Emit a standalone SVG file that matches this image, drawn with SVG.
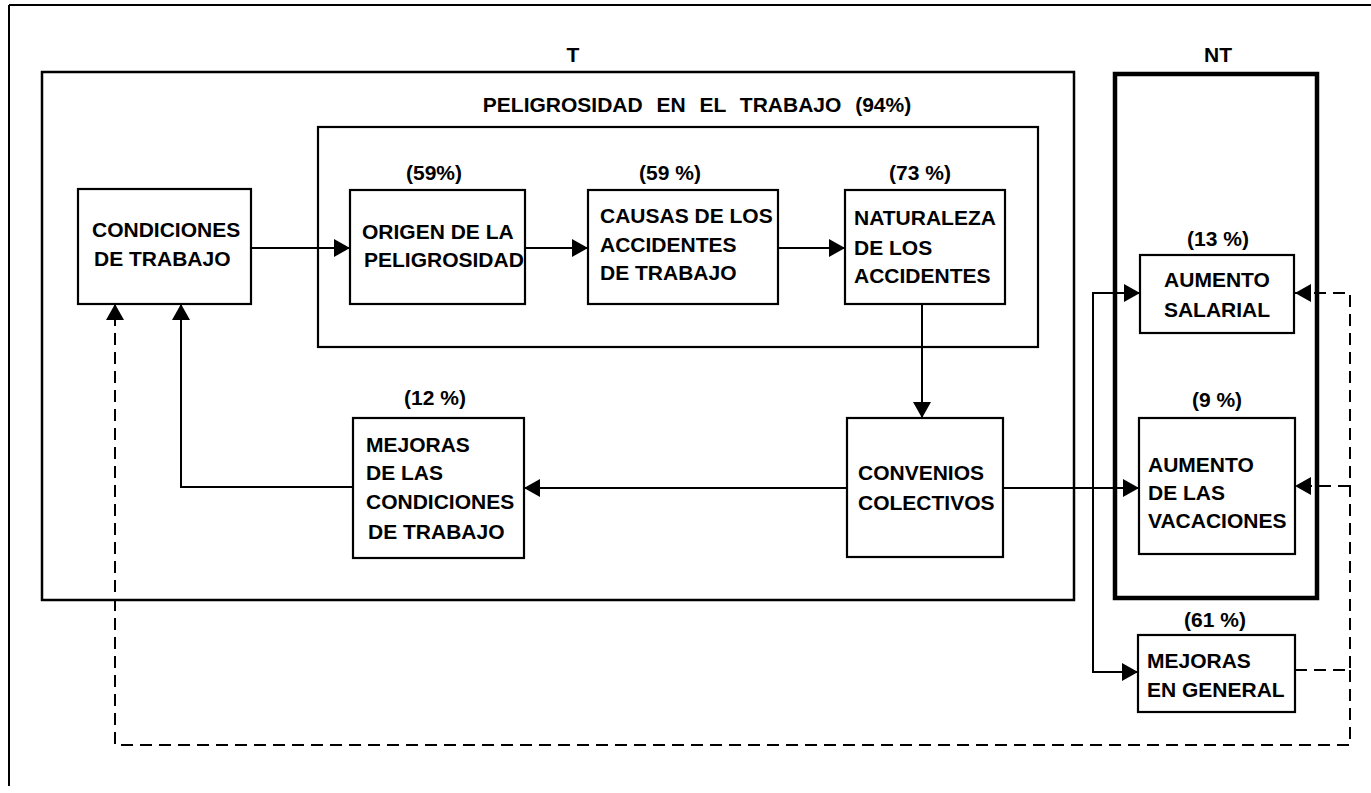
<svg xmlns="http://www.w3.org/2000/svg" width="1371" height="793" viewBox="0 0 1371 793">
<style>
text{font-family:"Liberation Sans",Arial,sans-serif;font-weight:bold;font-size:21px;fill:#000}
.c{text-anchor:middle}
.box{fill:none;stroke:#000;stroke-width:2.2}
.frame{fill:none;stroke:#000;stroke-width:2.5}
.ln{fill:none;stroke:#000;stroke-width:2}
.ds{fill:none;stroke:#000;stroke-width:2;stroke-dasharray:12 7}
</style>
<defs>
<marker id="ah" markerUnits="userSpaceOnUse" markerWidth="17" markerHeight="18" refX="16" refY="9" orient="auto">
<path d="M0,0 L16,9 L0,18 z" fill="#000"/>
</marker>
</defs>
<rect width="1371" height="793" fill="#fff"/>
<g id="frame">
<path d="M9,5 H1371 M9,5 V786" class="ln"/>
</g>
<g id="group-T">
<text x="573" y="62" class="c" font-size="20">T</text>
<rect x="42" y="72" width="1032" height="528" class="frame"/>
</g>
<g id="group-peligrosidad">
<text x="697" y="112" class="c" word-spacing="8">PELIGROSIDAD EN EL TRABAJO (94%)</text>
<rect x="318" y="127" width="720" height="220" class="box"/>
</g>
<g id="group-NT">
<text x="1218" y="62" class="c" font-size="20">NT</text>
<rect x="1115" y="74" width="202" height="524" fill="none" stroke="#000" stroke-width="4.5"/>
</g>
<g id="n-condiciones">
<rect x="78" y="189" width="173" height="115" class="box"/>
<text x="92" y="237">CONDICIONES</text>
<text x="94" y="266">DE TRABAJO</text>
</g>
<g id="n-origen">
<text x="434" y="180" class="c">(59%)</text>
<rect x="350" y="190" width="175" height="114" class="box"/>
<text x="362" y="239">ORIGEN DE LA</text>
<text x="364" y="267">PELIGROSIDAD</text>
</g>
<g id="n-causas">
<text x="670" y="180" class="c">(59 %)</text>
<rect x="588" y="190" width="190" height="114" class="box"/>
<text x="600" y="223">CAUSAS DE LOS</text>
<text x="600" y="252">ACCIDENTES</text>
<text x="600" y="280">DE TRABAJO</text>
</g>
<g id="n-naturaleza">
<text x="920" y="180" class="c">(73 %)</text>
<rect x="845" y="190" width="160" height="114" class="box"/>
<text x="854" y="225">NATURALEZA</text>
<text x="854" y="255">DE  LOS</text>
<text x="854" y="283">ACCIDENTES</text>
</g>
<g id="n-mejoras-condiciones">
<text x="435" y="405" class="c">(12 %)</text>
<rect x="353" y="418" width="171" height="140" class="box"/>
<text x="366" y="452">MEJORAS</text>
<text x="366" y="480">DE LAS</text>
<text x="366" y="509">CONDICIONES</text>
<text x="368" y="539">DE TRABAJO</text>
</g>
<g id="n-convenios">
<rect x="847" y="418" width="156" height="139" class="box"/>
<text x="858" y="480">CONVENIOS</text>
<text x="858" y="510">COLECTIVOS</text>
</g>
<g id="n-salarial">
<text x="1218" y="246" class="c">(13 %)</text>
<rect x="1140" y="255" width="154" height="78" class="box"/>
<text x="1217" y="287" class="c">AUMENTO</text>
<text x="1217" y="317" class="c">SALARIAL</text>
</g>
<g id="n-vacaciones">
<text x="1217" y="407" class="c">(9 %)</text>
<rect x="1139" y="418" width="156" height="136" class="box"/>
<text x="1148" y="472">AUMENTO</text>
<text x="1148" y="500">DE LAS</text>
<text x="1148" y="528">VACACIONES</text>
</g>
<g id="n-mejoras-general">
<text x="1215" y="627" class="c">(61 %)</text>
<rect x="1138" y="635" width="157" height="77" class="box"/>
<text x="1147" y="668">MEJORAS</text>
<text x="1147" y="697">EN GENERAL</text>
</g>
<g id="connectors">
<path d="M251,248 H350" class="ln" marker-end="url(#ah)"/>
<path d="M525,248 H588" class="ln" marker-end="url(#ah)"/>
<path d="M778,248 H845" class="ln" marker-end="url(#ah)"/>
<path d="M922,304 V418" class="ln" marker-end="url(#ah)"/>
<path d="M847,488 H524" class="ln" marker-end="url(#ah)"/>
<path d="M353,487 H181 V304" class="ln" marker-end="url(#ah)"/>
<path d="M1003,488 H1139" class="ln" marker-end="url(#ah)"/>
<path d="M1093,488 V293 H1140" class="ln" marker-end="url(#ah)"/>
<path d="M1093,488 V672 H1138" class="ln" marker-end="url(#ah)"/>
<path d="M1295,670 H1350 V293 H1295" class="ds" marker-end="url(#ah)"/>
<path d="M1350,486 H1295" class="ds" marker-end="url(#ah)"/>
<path d="M1350,670 V745 H115 V304" class="ds" marker-end="url(#ah)"/>
</g>
</svg>
